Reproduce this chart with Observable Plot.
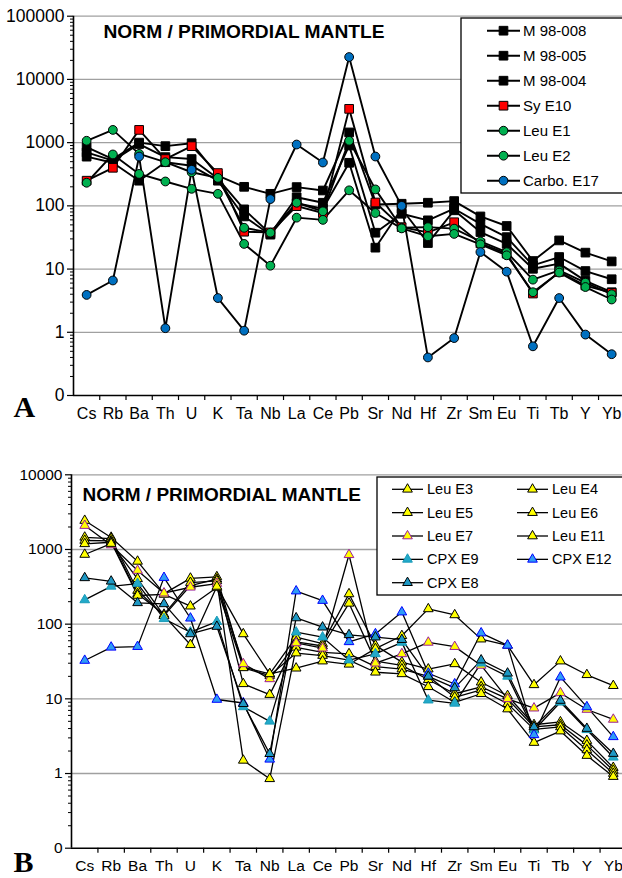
<!DOCTYPE html>
<html>
<head>
<meta charset="utf-8">
<script src="https://cdn.jsdelivr.net/npm/d3@7"></script>
<script src="https://cdn.jsdelivr.net/npm/@observablehq/plot@0.6"></script>
<style>
  body { margin: 0; background: #fff; }
  #wrap { position: relative; width: 622px; height: 878px; overflow: hidden; font-family: Arial, "Liberation Sans", sans-serif; }
  #wrap > svg, #wrap > figure { position: absolute; left: 0; margin: 0; }
</style>
</head>
<body>
<div id="wrap"></div>
<script>
// Elements on the horizontal axis (spider-diagram order)
const elements = ["Cs","Rb","Ba","Th","U","K","Ta","Nb","La","Ce","Pb","Sr","Nd","Hf","Zr","Sm","Eu","Ti","Tb","Y","Yb"];

// Panel A — normalized concentrations
const m98_008 = [850, 550, 1000, 880, 980, 300, 200, 155, 198, 175, 1450, 105, 108, 112, 119, 68, 48, 13.4, 28.4, 18.2, 13.2];
const m98_005 = [700, 520, 950, 590, 550, 270, 88, 36, 137, 112, 900, 37.6, 75, 59, 90, 52, 32, 11.4, 15.5, 9.3, 6.9];
const m98_004 = [600, 480, 250, 490, 430, 250, 68, 35, 110, 90, 480, 21.8, 90, 25.8, 85, 38.5, 25, 10.1, 12.2, 6.5, 4.3];
const syE10   = [250, 400, 1590, 550, 880, 330, 39, 38, 99, 77, 3420, 113, 46, 38, 55, 25.5, 17.5, 4.1, 9.0, 5.5, 4.2];
const leuE1   = [1070, 1590, 665, 490, 340, 277, 45, 37.6, 112, 82, 1070, 182, 45, 46, 43.6, 27.3, 18.5, 6.8, 9.5, 6.1, 4.0];
const leuE2   = [232, 650, 320, 243, 186, 155, 25, 11.3, 65, 60, 176, 77, 44, 33, 36, 24.6, 16.5, 4.3, 8.8, 5.2, 3.3];
const carboE17 = [3.9, 6.6, 603, 1.16, 372, 3.48, 1.06, 128, 933, 485, 22600, 603, 100, 0.40, 0.81, 18.6, 9.1, 0.60, 3.48, 0.92, 0.45];

// Panel B — normalized concentrations
const leuE3  = [2440, 1450, 693, 256, 411, 430, 26.5, 21.6, 67, 55, 254, 52, 31, 25, 29.4, 16.7, 11, 4.5, 4.9, 2.76, 1.2];
const leuE4  = [1455, 1400, 282, 130, 329, 400, 15.9, 11.4, 58, 51, 190, 32, 28, 18, 11.7, 14.5, 10, 4.2, 4.5, 2.4, 1.1];
const leuE5  = [1320, 1300, 255, 135, 360, 380, 1.5, 0.85, 49, 42, 40, 27, 25, 20, 10.5, 13.2, 8.6, 3.9, 4.2, 2.07, 1.0];
const leuE6  = [1190, 1250, 242, 250, 174, 310, 26, 20.5, 41, 38, 33, 22.7, 21.6, 14.5, 9, 11.7, 7.3, 2.6, 3.7, 1.74, 0.91];
const leuE7  = [2090, 1150, 523, 260, 312, 350, 29.4, 18.5, 56, 47.6, 850, 30, 40, 57, 50, 28, 10, 7.5, 12, 7.2, 5.3];
const leuE11 = [857, 1200, 405, 130, 53, 320, 74, 21.6, 25.7, 32, 29, 47, 70, 160, 133, 63, 52, 15.4, 32, 21, 15];
const cpxE9  = [211, 321, 350, 118, 78, 108, 7.8, 5.0, 78, 67, 33, 40, 57, 9.6, 8.7, 30, 20, 3.8, 9.0, 3.85, 1.65];
const cpxE12 = [32.6, 49, 50, 420, 120, 9.8, 8.8, 1.55, 277, 207, 58, 74, 145, 22, 15.8, 76, 52, 3.3, 19.5, 7.8, 3.1];
const cpxE8  = [417, 375, 193, 187, 74, 93, 8.6, 1.84, 121, 91, 72, 67, 62, 20, 14, 33, 22, 4.2, 9.5, 4.0, 1.85];

const titleText = "NORM / PRIMORDIAL MANTLE";

// Series appearance
const seriesA = [
  {name: "M 98-008", values: m98_008, symbol: "square", fill: "#000000", stroke: "#000000"},
  {name: "M 98-005", values: m98_005, symbol: "square", fill: "#000000", stroke: "#000000"},
  {name: "M 98-004", values: m98_004, symbol: "square", fill: "#000000", stroke: "#000000"},
  {name: "Sy E10", values: syE10, symbol: "square", fill: "#ff0000", stroke: "#000000"},
  {name: "Leu E1", values: leuE1, symbol: "circle", fill: "#00b050", stroke: "#000000"},
  {name: "Leu E2", values: leuE2, symbol: "circle", fill: "#00b050", stroke: "#000000"},
  {name: "Carbo. E17", values: carboE17, symbol: "circle", fill: "#0070c0", stroke: "#000000"}
];
const seriesB = [
  {name: "Leu E3", values: leuE3, symbol: "triangle", fill: "#ffff00", stroke: "#000000"},
  {name: "Leu E4", values: leuE4, symbol: "triangle", fill: "#ffff00", stroke: "#000000"},
  {name: "Leu E5", values: leuE5, symbol: "triangle", fill: "#ffff00", stroke: "#000000"},
  {name: "Leu E6", values: leuE6, symbol: "triangle", fill: "#ffff00", stroke: "#000000"},
  {name: "Leu E7", values: leuE7, symbol: "triangle", fill: "#ffff00", stroke: "#9a1f9a"},
  {name: "Leu E11", values: leuE11, symbol: "triangle", fill: "#ffff00", stroke: "#000000"},
  {name: "CPX E9", values: cpxE9, symbol: "triangle", fill: "#22a9c9", stroke: "#1a9bb8"},
  {name: "CPX E12", values: cpxE12, symbol: "triangle", fill: "#2e9cf5", stroke: "#0000ff"},
  {name: "CPX E8", values: cpxE8, symbol: "triangle", fill: "#1e98c4", stroke: "#000000"}
];
// legend slots: [column, row]
const legendSlotsB = [[0,0],[1,0],[0,1],[1,1],[0,2],[1,2],[0,3],[1,3],[0,4]];

const FONT = "Arial, 'Liberation Sans', sans-serif";
const wrap = document.getElementById("wrap");

function spider(cfg) {
  const exps = d3.range(-1, Math.round(Math.log10(cfg.yMax)) + 1);
  const majors = exps.map(e => +(Math.pow(10, e)).toPrecision(1));
  const minors = exps.slice(0, -1).flatMap(e => d3.range(2, 10).map(k => +(k * Math.pow(10, e)).toPrecision(2)));
  const bounds = d3.range(0.5, elements.length, 1);
  const marks = [
    Plot.ruleY(majors.filter(d => d >= 1), {stroke: "#a0a0a0", strokeWidth: 1.3}),
    Plot.axisY({ticks: minors, tickSize: 3, tickFormat: () => "", strokeWidth: 1}),
    Plot.axisY({ticks: majors, tickSize: 6, tickPadding: 3, fontSize: cfg.yFont,
      tickFormat: d => d < 1 ? "0" : d3.format("d")(d), strokeWidth: 1.2}),
    Plot.axisX({ticks: bounds, tickSize: 5, tickFormat: () => "", strokeWidth: 1.2}),
    Plot.axisX({ticks: d3.range(elements.length), tickSize: 0, tickPadding: cfg.xPad, fontSize: cfg.xFont,
      tickFormat: i => elements[i]}),
    Plot.ruleY([0.1], {stroke: "#000", strokeWidth: 1.6}),
    Plot.ruleX([-0.5], {stroke: "#000", strokeWidth: 1.6}),
    Plot.text([titleText], {text: d => d, frameAnchor: "top-left", dx: cfg.titleDx, dy: cfg.titleDy,
      textAnchor: "start", lineAnchor: "middle", fontWeight: "bold", fontSize: cfg.titleFont}),
    Plot.text([cfg.tag], {text: d => d, frameAnchor: "bottom-left", dx: cfg.tagDx, dy: cfg.tagDy,
      textAnchor: "start", lineAnchor: "bottom", fontWeight: "bold", fontSize: 30,
      fontFamily: "'Liberation Serif', 'Times New Roman', serif"})
  ];
  for (const s of cfg.series) {
    const rows = s.values.map((v, i) => ({i, v}));
    marks.push(Plot.line(rows, {x: "i", y: "v", stroke: "#000", strokeWidth: cfg.lineWidth}));
  }
  for (const s of cfg.series) {
    const rows = s.values.map((v, i) => ({i, v}));
    marks.push(Plot.dot(rows, {x: "i", y: "v", symbol: s.symbol, r: cfg.r[s.symbol],
      fill: s.fill, stroke: s.stroke, strokeWidth: 1}));
  }
  const svg = Plot.plot({
    width: 622, height: cfg.height,
    marginTop: cfg.marginTop, marginBottom: cfg.marginBottom,
    marginLeft: cfg.axisX, marginRight: 0,
    style: {fontFamily: FONT, color: "#000", background: "transparent", overflow: "hidden"},
    x: {type: "linear", domain: [-0.5, elements.length - 0.5], range: [cfg.axisX, cfg.xEnd], label: null},
    y: {type: "log", domain: [0.1, cfg.yMax], label: null},
    marks
  });
  svg.style.top = cfg.top + "px";
  svg.style.maxWidth = "none";
  wrap.appendChild(svg);
}

function legend(cfg) {
  const svg = d3.select(wrap).append("svg")
    .attr("width", 622).attr("height", 878)
    .style("position", "absolute").style("left", "0px").style("top", "0px");
  svg.append("rect").attr("x", cfg.box[0]).attr("y", cfg.box[1])
    .attr("width", cfg.box[2]).attr("height", cfg.box[3])
    .attr("fill", "#fff").attr("stroke", "#000").attr("stroke-width", 1.3);
  cfg.series.forEach((s, k) => {
    const [col, row] = cfg.slots ? cfg.slots[k] : [0, k];
    const x0 = cfg.x0 + col * cfg.colStep;
    const y = cfg.y0 + row * cfg.rowStep;
    svg.append("line").attr("x1", x0).attr("x2", x0 + cfg.lineLen).attr("y1", y).attr("y2", y)
      .attr("stroke", "#000").attr("stroke-width", cfg.lineWidth);
    const r = cfg.r[s.symbol];
    const sym = {square: d3.symbolSquare, circle: d3.symbolCircle, triangle: d3.symbolTriangle}[s.symbol];
    svg.append("path").attr("d", d3.symbol(sym, r * r * Math.PI)())
      .attr("transform", `translate(${x0 + cfg.lineLen / 2},${y})`)
      .attr("fill", s.fill).attr("stroke", s.stroke).attr("stroke-width", 1);
    svg.append("text").attr("x", x0 + cfg.lineLen + cfg.gap).attr("y", y).attr("dy", "0.35em")
      .attr("font-family", FONT).attr("font-size", cfg.font).text(s.name);
  });
}

const rA = {square: 4.9, circle: 4.4};
const rB = {triangle: 3.6};

spider({
  series: seriesA, yMax: 100000, top: 0, height: 430, marginTop: 15.7, marginBottom: 35,
  axisX: 73, xEnd: 624.3, yFont: 17.5, xFont: 16, xPad: 12, lineWidth: 1.9, r: rA,
  titleFont: 19.2, titleDx: 30, titleDy: 15.5, tag: "A", tagDx: -60, tagDy: 21
});
legend({
  series: seriesA, r: rA, box: [461, 18, 170, 175], x0: 487, y0: 30.7, rowStep: 25,
  colStep: 0, lineLen: 33, gap: 3, font: 15, lineWidth: 1.9
});

spider({
  series: seriesB, yMax: 10000, top: 430, height: 448, marginTop: 44.3, marginBottom: 30.3,
  axisX: 71, xEnd: 626, yFont: 15.5, xFont: 15.5, xPad: 12, lineWidth: 1.3, r: rB,
  titleFont: 19, titleDx: 11, titleDy: 20.5, tag: "B", tagDx: -58, tagDy: 24
});
legend({
  series: seriesB, slots: legendSlotsB, r: rB, box: [377, 477, 260, 118], x0: 392, y0: 489.3, rowStep: 23.35,
  colStep: 125, lineLen: 31, gap: 4, font: 14.5, lineWidth: 1.3
});
</script>
</body>
</html>
